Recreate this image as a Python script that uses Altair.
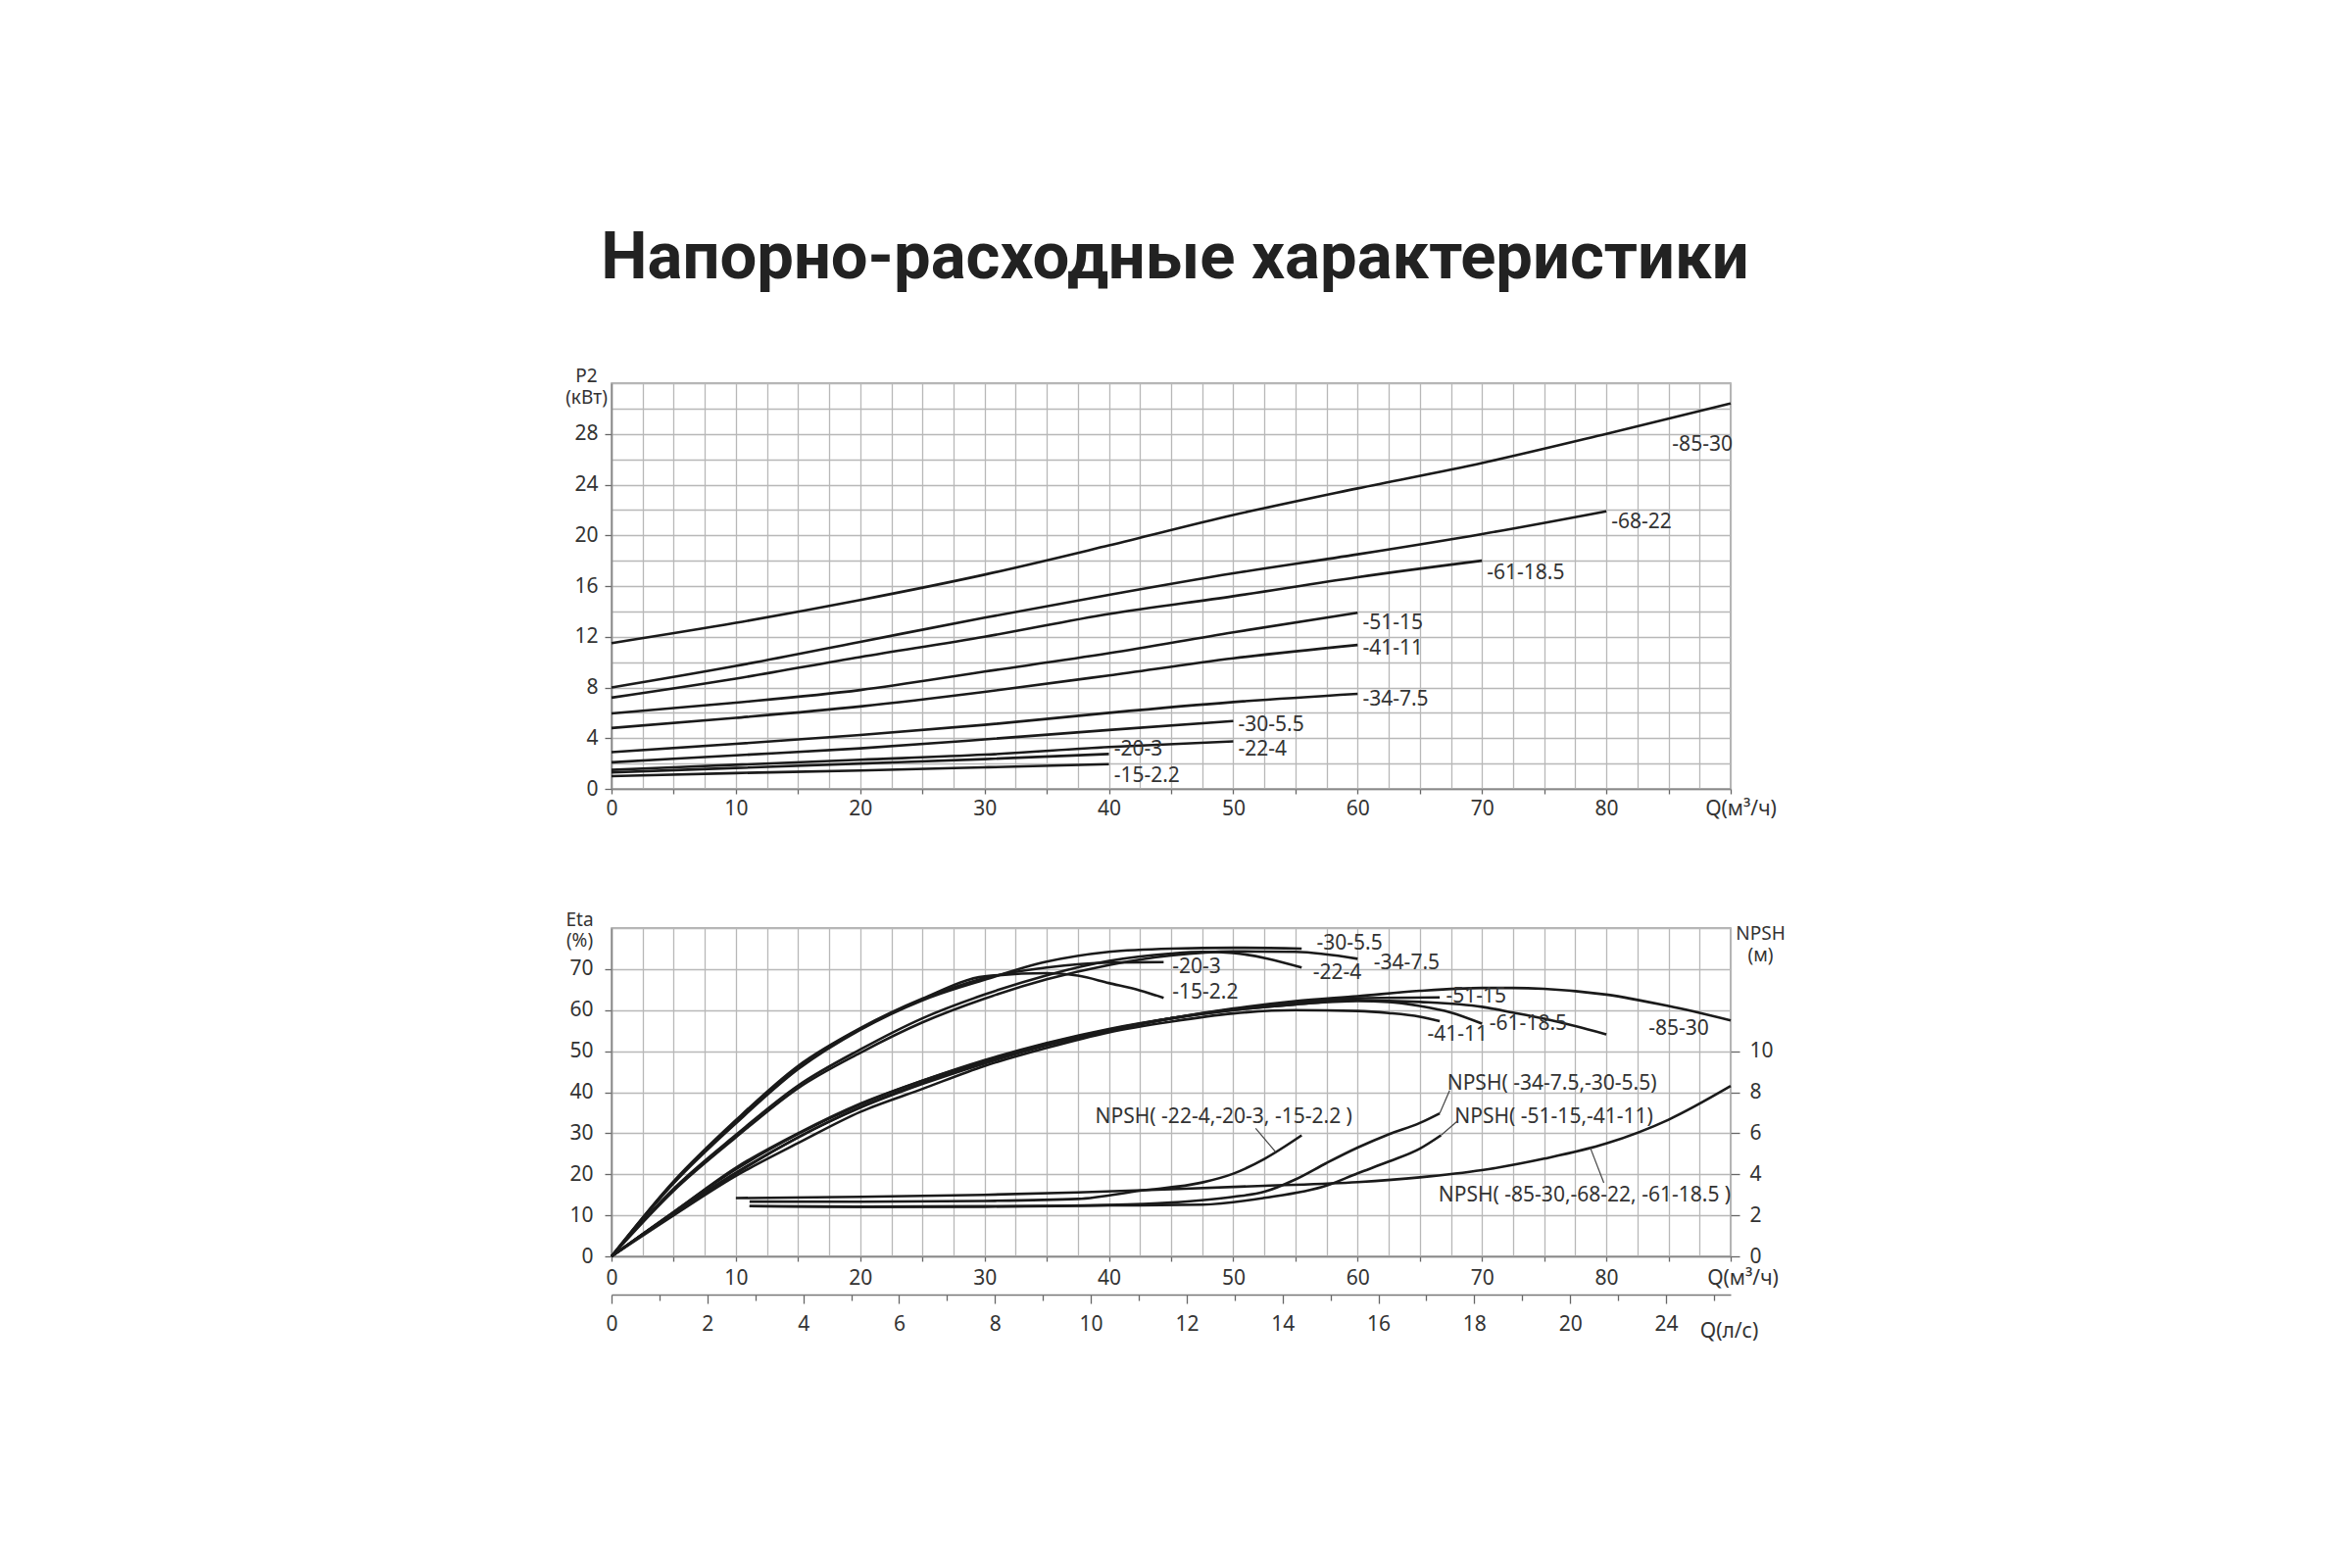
import altair as alt
import pandas as pd
import numpy as np

FONT = "Noto Sans"
TITLE_FONT = "Roboto"
LINE = "#1a1a1a"
TXT = "#333333"
GRID = "#b8b8b8"

# ---------------- P2 (kW) vs Q (m3/h) ----------------
p2_names = ["-85-30", "-68-22", "-61-18.5", "-51-15", "-41-11",
            "-34-7.5", "-30-5.5", "-22-4", "-20-3", "-15-2.2"]
q_p2_85_30 = [0, 10, 20, 30, 40, 50, 60, 70, 80, 90]
p2_85_30 = [11.5, 13.1, 14.9, 16.9, 19.2, 21.6, 23.7, 25.7, 28.0, 30.4]
q_p2_68_22 = [0, 10, 20, 30, 40, 50, 60, 70, 80]
p2_68_22 = [8.0, 9.7, 11.6, 13.5, 15.3, 17.0, 18.5, 20.1, 21.9]
q_p2_61_18 = [0, 10, 20, 30, 40, 50, 60, 70]
p2_61_18 = [7.2, 8.7, 10.4, 12.0, 13.8, 15.2, 16.7, 18.0]
q_p2_51_15 = [0, 10, 20, 30, 40, 50, 60]
p2_51_15 = [5.95, 6.8, 7.8, 9.25, 10.7, 12.35, 13.9]
q_p2_41_11 = [0, 10, 20, 30, 40, 50, 60]
p2_41_11 = [4.8, 5.6, 6.5, 7.65, 8.95, 10.3, 11.35]
q_p2_34_7 = [0, 10, 20, 30, 40, 50, 60]
p2_34_7 = [2.9, 3.55, 4.25, 5.05, 6.0, 6.85, 7.5]
q_p2_30_5 = [0, 10, 20, 30, 40, 50]
p2_30_5 = [2.1, 2.65, 3.2, 3.9, 4.65, 5.35]
q_p2_22_4 = [0, 10, 20, 30, 40, 50]
p2_22_4 = [1.5, 1.9, 2.3, 2.7, 3.3, 3.75]
q_p2_20_3 = [0, 10, 20, 30, 40]
p2_20_3 = [1.3, 1.65, 2.0, 2.35, 2.75]
q_p2_15_2 = [0, 10, 20, 30, 40]
p2_15_2 = [1.0, 1.25, 1.45, 1.7, 1.95]

# label anchors (left edge, vertical centre) in data units
p2_label_q = [85.3, 80.4, 70.4, 60.4, 60.4, 60.4, 50.4, 50.4, 40.4, 40.4]
p2_label_p = [27.1, 21.0, 17.0, 13.1, 11.05, 7.0, 5.0, 3.1, 3.1, 1.0]

# ---------------- Eta (%) vs Q ----------------
eta_names = ["-15-2.2", "-20-3", "-30-5.5", "-22-4", "-34-7.5",
             "-85-30", "-68-22", "-61-18.5", "-51-15", "-41-11"]
q_eta_15_2 = [0, 5, 10, 15, 20, 25, 30, 35, 37.5, 40, 42.5, 44.4]
eta_15_2 = [0, 18.3, 33.2, 46.4, 55.6, 62.8, 68.2, 69.0, 68.4, 66.6, 64.8, 63.0]
q_eta_20_3 = [0, 5, 10, 15, 20, 25, 30, 35, 40, 44.4]
eta_20_3 = [0, 18.0, 32.8, 46.0, 55.4, 62.6, 67.8, 70.4, 71.6, 71.7]
q_eta_30_5 = [0, 5, 10, 15, 20, 25, 30, 35, 40, 45, 50, 55.5]
eta_30_5 = [0, 17.8, 32.4, 45.6, 55.2, 62.4, 67.4, 71.8, 74.2, 75.0, 75.2, 75.0]
q_eta_22_4 = [0, 5, 10, 15, 20, 25, 30, 35, 40, 45, 47.5, 50, 55.5]
eta_22_4 = [0, 16.5, 29.6, 41.6, 50.4, 58.0, 63.8, 68.5, 72.0, 73.8, 74.2, 73.9, 70.4]
q_eta_34_7 = [0, 5, 10, 15, 20, 25, 30, 35, 40, 45, 50, 55, 60]
eta_34_7 = [0, 16.0, 29.0, 41.0, 49.6, 57.0, 62.8, 67.5, 71.0, 73.3, 74.3, 74.2, 72.5]
q_eta_85_30 = [0, 5, 10, 15, 20, 25, 30, 35, 40, 45, 50, 55, 60, 65, 70, 72.5, 75, 80, 85, 90]
eta_85_30 = [0, 10.6, 20.4, 29.0, 36.4, 42.2, 47.2, 51.5, 55.0, 58.0, 60.4, 62.2, 63.4, 64.7, 65.4, 65.4, 65.2, 63.8, 61.0, 57.5]
q_eta_68_22 = [0, 5, 10, 15, 20, 25, 30, 35, 40, 45, 50, 55, 60, 65, 70, 72.5, 75, 77.5, 80]
eta_68_22 = [0, 10.8, 21.2, 29.8, 37.0, 42.8, 47.6, 51.8, 55.2, 58.0, 60.0, 61.4, 62.4, 62.0, 60.8, 59.4, 57.9, 56.1, 54.1]
q_eta_61_18 = [0, 5, 10, 15, 20, 25, 30, 35, 40, 45, 50, 55, 60, 62.5, 65, 67.5, 70]
eta_61_18 = [0, 10.8, 21.6, 30.0, 37.2, 42.8, 47.8, 52.0, 55.4, 58.0, 60.0, 61.4, 62.2, 62.0, 61.0, 59.4, 56.7]
q_eta_51_15 = [0, 5, 10, 15, 20, 25, 30, 35, 40, 45, 50, 55, 60, 66.6]
eta_51_15 = [0, 10.4, 20.2, 29.0, 36.2, 42.0, 47.0, 51.4, 55.0, 58.0, 60.2, 61.8, 62.9, 63.1]
q_eta_41_11 = [0, 5, 10, 15, 20, 25, 30, 35, 40, 45, 50, 55, 60, 62.5, 65, 66.6]
eta_41_11 = [0, 10.0, 19.6, 27.6, 35.2, 40.8, 46.4, 50.8, 54.6, 57.2, 59.2, 60.0, 59.8, 59.3, 58.4, 57.3]

eta_label_text = ["-30-5.5", "-34-7.5", "-22-4", "-20-3", "-15-2.2",
                  "-51-15", "-61-18.5", "-41-11", "-85-30"]
eta_label_q = [56.7, 61.3, 56.4, 45.1, 45.1, 67.1, 70.6, 65.6, 83.4]
eta_label_eta = [76.2, 71.4, 69.0, 70.4, 64.2, 63.4, 56.5, 53.9, 55.5]

# ---------------- NPSH (m) vs Q ----------------
npsh_names = ["NPSH( -85-30,-68-22, -61-18.5 )", "NPSH( -22-4,-20-3, -15-2.2 )",
              "NPSH( -34-7.5,-30-5.5)", "NPSH( -51-15,-41-11)"]
q_npsh_a = [10, 20, 30, 37.5, 45, 52.5, 60, 65, 70, 75, 80, 85, 90]
npsh_a = [2.84, 2.9, 3.0, 3.12, 3.27, 3.44, 3.62, 3.85, 4.2, 4.76, 5.5, 6.66, 8.3]
q_npsh_b = [11.1, 20, 30, 37.5, 42.5, 47.5, 50, 52.5, 55.5]
npsh_b = [2.67, 2.66, 2.7, 2.8, 3.2, 3.6, 4.03, 4.75, 5.9]
q_npsh_c = [11.1, 20, 30, 40, 45, 50, 52.5, 55, 57.5, 60, 62.5, 65, 66.6]
npsh_c = [2.45, 2.42, 2.43, 2.5, 2.62, 2.9, 3.15, 3.75, 4.55, 5.3, 5.95, 6.5, 6.97]
q_npsh_d = [11.1, 20, 30, 40, 47.5, 52.5, 57.5, 60, 62.5, 65, 66.7]
npsh_d = [2.45, 2.42, 2.43, 2.48, 2.52, 2.85, 3.45, 4.05, 4.62, 5.25, 5.9]

npsh_label_q = [66.5, 38.9, 67.2, 67.8]
npsh_label_h = [2.95, 6.8, 8.4, 6.8]
# leader: point on the label side, and Q where it touches the curve
leader_label_q = [79.8, 51.8, 67.4, 68.0]
leader_label_h = [3.58, 6.24, 8.08, 6.58]
leader_curve_q = [78.7, 53.4, 66.6, 66.7]

# second axis Q (l/s) as drawn in the source
ls_ticks = list(range(0, 24))
ls_max = 23.35

# ---------------- build tables ----------------
def frame(names, qs, vs):
    rows = []
    for n, q, v in zip(names, qs, vs):
        for a, b in zip(q, v):
            rows.append({"series": n, "q": a, "v": b})
    return pd.DataFrame(rows)

df_p2 = frame(p2_names,
              [q_p2_85_30, q_p2_68_22, q_p2_61_18, q_p2_51_15, q_p2_41_11,
               q_p2_34_7, q_p2_30_5, q_p2_22_4, q_p2_20_3, q_p2_15_2],
              [p2_85_30, p2_68_22, p2_61_18, p2_51_15, p2_41_11,
               p2_34_7, p2_30_5, p2_22_4, p2_20_3, p2_15_2])
df_p2_lab = pd.DataFrame({"t": p2_names, "q": p2_label_q, "v": p2_label_p})

df_eta = frame(eta_names,
               [q_eta_15_2, q_eta_20_3, q_eta_30_5, q_eta_22_4, q_eta_34_7,
                q_eta_85_30, q_eta_68_22, q_eta_61_18, q_eta_51_15, q_eta_41_11],
               [eta_15_2, eta_20_3, eta_30_5, eta_22_4, eta_34_7,
                eta_85_30, eta_68_22, eta_61_18, eta_51_15, eta_41_11])
df_eta_lab = pd.DataFrame({"t": eta_label_text, "q": eta_label_q, "v": eta_label_eta})

npsh_q_lists = [q_npsh_a, q_npsh_b, q_npsh_c, q_npsh_d]
npsh_v_lists = [npsh_a, npsh_b, npsh_c, npsh_d]
df_npsh = frame(npsh_names, npsh_q_lists, npsh_v_lists)
df_npsh_lab = pd.DataFrame({"t": npsh_names, "q": npsh_label_q, "v": npsh_label_h})
curve_h = [float(np.interp(cq, q, v)) for cq, q, v in zip(leader_curve_q, npsh_q_lists, npsh_v_lists)]
df_lead = pd.DataFrame({"q": leader_label_q, "v": leader_label_h,
                        "q2": leader_curve_q, "v2": curve_h})
df_ls = pd.DataFrame({"ls": [0, ls_max], "z": [0, 0]})

# ---------------- axes ----------------
q_vals = [float(v) for v in np.arange(0, 90.01, 2.5)]

def q_axis(shift, pad):
    return alt.Axis(
        values=q_vals, title=None, grid=True, gridColor=GRID, gridWidth=1.3,
        labelExpr="datum.value == 90 ? 'Q(м³/ч)' : (datum.value % 10 == 0 ? datum.label : '')",
        labelOffset={"condition": {"test": "datum.value == 90", "value": shift}, "value": 0},
        tickOpacity={"condition": {"test": "datum.value % 5 != 0", "value": 0}, "value": 1},
        tickSize=5, tickColor="#666", tickWidth=1.3,
        labelFont=FONT, labelFontSize=21, labelColor=TXT, labelPadding=pad,
        labelOverlap=False, labelFlush=False,
        domainColor="#888", domainWidth=1.5)

axis_q_top = q_axis(10, 4)
axis_q_bot = q_axis(12, 6)

axis_p2 = alt.Axis(
    values=list(range(0, 33, 2)), grid=True, gridColor=GRID, gridWidth=1.3,
    labelExpr="datum.value % 4 == 0 && datum.value < 32 ? datum.label : ''",
    tickOpacity={"condition": {"test": "datum.value % 4 != 0 || datum.value == 32", "value": 0}, "value": 1},
    tickSize=7, tickColor="#666", tickWidth=1.3,
    labelFont=FONT, labelFontSize=21, labelColor=TXT, labelPadding=7, labelOverlap=False,
    labelFlush=False, domainColor="#888", domainWidth=1.5,
    title=["P2", "(кВт)"], titleAngle=0, titleAlign="center", titleBaseline="bottom",
    titleX=-26, titleY=2, titleFont=FONT, titleFontSize=19, titleFontWeight="normal",
    titleColor=TXT, titleLineHeight=22)

axis_eta = alt.Axis(
    values=list(range(0, 81, 10)), grid=True, gridColor=GRID, gridWidth=1.3,
    labelExpr="datum.value < 80 ? datum.label : ''",
    tickOpacity={"condition": {"test": "datum.value == 80", "value": 0}, "value": 1},
    tickSize=7, tickColor="#666", tickWidth=1.3,
    labelFont=FONT, labelFontSize=21, labelColor=TXT, labelPadding=12, labelOverlap=False,
    labelFlush=False, domainColor="#888", domainWidth=1.5,
    title=["Eta", "(%)"], titleAngle=0, titleAlign="center", titleBaseline="bottom",
    titleX=-33, titleY=1, titleFont=FONT, titleFontSize=19, titleFontWeight="normal",
    titleColor=TXT, titleLineHeight=21)

axis_npsh = alt.Axis(
    orient="right", values=[0, 2, 4, 6, 8, 10], grid=False,
    tickSize=9, tickColor="#666", tickWidth=1.3,
    labelFont=FONT, labelFontSize=21, labelColor=TXT, labelPadding=10, labelOverlap=False,
    labelFlush=False, domain=False,
    title=["NPSH", "(м)"], titleAngle=0, titleAlign="center", titleBaseline="bottom",
    titleX=30, titleY=15, titleFont=FONT, titleFontSize=19, titleFontWeight="normal",
    titleColor=TXT, titleLineHeight=22)

axis_ls = alt.Axis(
    orient="bottom", offset=39, values=ls_ticks, grid=False,
    labelExpr="datum.value % 2 == 0 ? (datum.value == 22 ? '24' : datum.label) : ''",
    tickSize={"condition": {"test": "datum.value % 2 == 1", "value": 6}, "value": 9},
    tickColor="#666", tickWidth=1.3,
    labelFont=FONT, labelFontSize=21, labelColor=TXT, labelPadding=10, labelOverlap=False,
    labelFlush=False, domainColor="#777", domainWidth=1.5,
    title="Q(л/с)", titleX=1140, titleY=37, titleAlign="center", titleBaseline="middle",
    titleFont=FONT, titleFontSize=21, titleFontWeight="normal", titleColor=TXT)

W = 1142
qscale = alt.Scale(domain=[0, 90], nice=False, zero=False)
SW = 2.6

# ---------------- top chart ----------------
p2_scale = alt.Scale(domain=[0, 32], nice=False)
p2_lines = alt.Chart(df_p2).mark_line(interpolate="monotone", color=LINE, strokeWidth=SW).encode(
    x=alt.X("q:Q", scale=qscale, axis=axis_q_top),
    y=alt.Y("v:Q", scale=p2_scale, axis=axis_p2),
    detail="series:N")
p2_text = alt.Chart(df_p2_lab).mark_text(align="left", baseline="middle", font=FONT,
                                         fontSize=21, color=TXT).encode(
    x=alt.X("q:Q", scale=qscale, axis=axis_q_top),
    y=alt.Y("v:Q", scale=p2_scale, axis=axis_p2),
    text="t:N")
top = alt.layer(p2_lines, p2_text).properties(width=W, height=414)

# ---------------- bottom chart ----------------
eta_scale = alt.Scale(domain=[0, 80], nice=False)
eta_lines = alt.Chart(df_eta).mark_line(interpolate="monotone", color=LINE, strokeWidth=SW).encode(
    x=alt.X("q:Q", scale=qscale, axis=axis_q_bot),
    y=alt.Y("v:Q", scale=eta_scale, axis=axis_eta),
    detail="series:N")
eta_text = alt.Chart(df_eta_lab).mark_text(align="left", baseline="middle", font=FONT,
                                           fontSize=21, color=TXT).encode(
    x=alt.X("q:Q", scale=qscale, axis=axis_q_bot),
    y=alt.Y("v:Q", scale=eta_scale, axis=axis_eta),
    text="t:N")
eta_group = alt.layer(eta_lines, eta_text)

h_scale = alt.Scale(domain=[0, 16], nice=False)
npsh_lines = alt.Chart(df_npsh).mark_line(interpolate="monotone", color=LINE, strokeWidth=SW).encode(
    x=alt.X("q:Q", scale=qscale, axis=None),
    y=alt.Y("v:Q", scale=h_scale, axis=axis_npsh),
    detail="series:N")
npsh_text = alt.Chart(df_npsh_lab).mark_text(align="left", baseline="middle", font=FONT,
                                             fontSize=21, color=TXT).encode(
    x=alt.X("q:Q", scale=qscale, axis=None),
    y=alt.Y("v:Q", scale=h_scale, axis=axis_npsh),
    text="t:N")
npsh_lead = alt.Chart(df_lead).mark_rule(color="#444", strokeWidth=1.2).encode(
    x=alt.X("q:Q", scale=qscale, axis=None),
    y=alt.Y("v:Q", scale=h_scale, axis=axis_npsh),
    x2="q2:Q", y2="v2:Q")
npsh_group = alt.layer(npsh_lines, npsh_lead, npsh_text)

ls_layer = alt.Chart(df_ls).mark_point(opacity=0).encode(
    x=alt.X("ls:Q", scale=alt.Scale(domain=[0, ls_max], nice=False, zero=False), axis=axis_ls),
    y=alt.Y("z:Q", axis=None))

bottom = alt.layer(eta_group, npsh_group, ls_layer).resolve_scale(
    x="independent", y="independent").properties(width=W, height=335)

chart = alt.vconcat(top, bottom, spacing=92).properties(
    title=alt.TitleParams("Напорно-расходные характеристики", font=TITLE_FONT, fontSize=67,
                          fontWeight="bold", color="#222", anchor="middle", offset=75),
    padding={"left": 567, "top": 222, "right": 20, "bottom": 20},
    background="white",
).configure_view(stroke="#999", strokeWidth=1.5)

chart.save("out.html", embed_options={"renderer": "svg", "actions": False})
